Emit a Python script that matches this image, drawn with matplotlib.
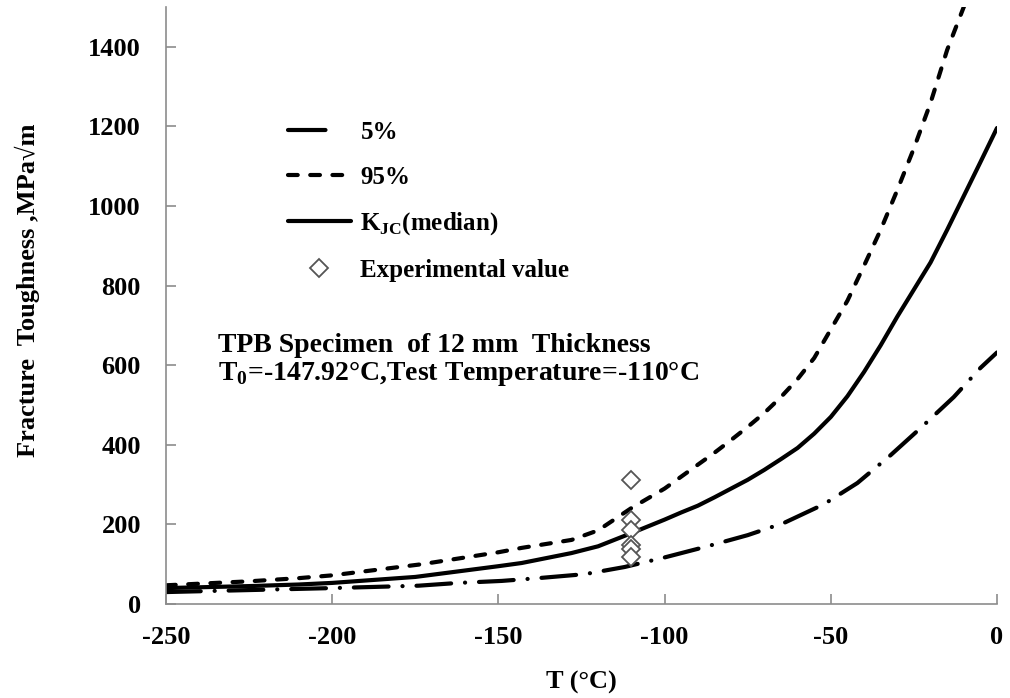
import numpy as np
import matplotlib
matplotlib.use("Agg")
import matplotlib.pyplot as plt
from matplotlib.lines import Line2D

plt.rcParams["font.family"] = ["Liberation Serif", "DejaVu Serif"]
plt.rcParams["font.weight"] = "bold"
plt.rcParams["lines.scale_dashes"] = False
plt.rcParams["axes.unicode_minus"] = False

# Master curve bands, K_JC in MPa*sqrt(m) against temperature in degC
t_med = [-250, -225, -210, -200, -175, -150, -143, -128, -120, -110, -100,
         -95, -90, -85, -80, -75, -70, -65, -60, -55, -50, -45, -40,
         -35, -30, -25, -20, -15, -10, -5, 0]
k_med = [40, 45, 49, 53, 68, 95, 103, 128, 145, 178, 212,
         230, 247, 268, 290, 312, 337, 364, 392, 428, 470, 522, 583,
         650, 722, 790, 858, 940, 1025, 1110, 1196]

t_95 = [-250, -225, -210, -200, -173, -150, -143, -128, -120, -110, -100,
        -95, -90, -85, -80, -75, -70, -65, -60, -55, -50, -45, -40,
        -35, -30, -25, -20, -15, -10, -8]
k_95 = [47, 57, 65, 72, 100, 130, 141, 161, 185, 241, 290,
        320, 350, 380, 412, 445, 480, 520, 565, 618, 690, 762, 850,
        940, 1040, 1145, 1259, 1392, 1500, 1540]

t_05 = [-250, -225, -200, -174, -162, -149, -138, -124, -112, -100, -88,
        -75, -64, -52, -42, -32, -23, -13, -5, 0]
k_05 = [30, 35, 40, 46, 53, 58, 65, 75, 93, 117, 143,
        173, 204, 251, 304, 374, 442, 520, 593, 632]

# test results at the test temperature
t_exp = [-110, -110, -110, -110, -110, -110]
k_exp = [311, 212, 185, 148, 138, 118]

style_05 = dict(color="black", lw=3, dash_capstyle="round")
style_95 = dict(color="black", lw=3, dashes=(7, 9), dash_capstyle="round")
style_med = dict(color="black", lw=3, solid_capstyle="round")
style_exp = dict(ls="none", marker="D", ms=9, mfc="white", mec="#555555", mew=1.3)

fig = plt.figure(figsize=(10.1, 6.98), dpi=100)
ax = fig.add_axes([166 / 1010, 94 / 698, 831 / 1010, 597 / 698])

ax.plot(t_05, k_05, dashes=(25, 10, 0.1, 10), **style_05)
ax.plot(t_95, k_95, **style_95)
ax.plot(t_med, k_med, **style_med)
ax.plot(t_exp, k_exp, zorder=5, **style_exp)

ax.set_xlim(-250, 0)
ax.set_ylim(0, 1500)
ax.set_xticks(np.arange(-250, 1, 50))
ax.set_yticks(np.arange(0, 1401, 200))

for side in ("top", "right"):
    ax.spines[side].set_visible(False)
for side in ("left", "bottom"):
    ax.spines[side].set_color("#8c8c8c")
    ax.spines[side].set_linewidth(1.2)
ax.tick_params(axis="both", direction="in", length=7, width=1.2,
               color="#8c8c8c", labelsize=19)
ax.tick_params(axis="y", pad=18)
ax.tick_params(axis="x", pad=16)

ax.set_xlabel("T (°C)", fontsize=19, fontweight="bold")
ax.xaxis.set_label_coords(0.5, -0.112)
ax.set_ylabel("Fracture  Toughness ,MPa√m", fontsize=19, fontweight="bold")
ax.yaxis.set_label_coords(-0.152, 0.525)

# legend handles (5% handle shows only the long dash)
handles = [
    Line2D([], [], dashes=(27, 60), **style_05),
    Line2D([], [], **style_95),
    Line2D([], [], **style_med),
    Line2D([], [], **style_exp),
]
labels = ["5%", "95%", r"K$_{\mathregular{JC}}$(median)", "Experimental value"]
ax.legend(handles, labels, loc="upper left",
          bbox_to_anchor=(288 / 1010, 1 - 121 / 698),
          bbox_transform=fig.transFigure, frameon=False, fontsize=18,
          borderpad=0, borderaxespad=0, handlelength=2.5,
          handletextpad=0.4, labelspacing=0.87)

fig.text(218 / 1010, 1 - 352 / 698, "TPB Specimen  of 12 mm  Thickness",
         fontsize=20, fontweight="bold", va="baseline")
fig.text(218 / 1010, 1 - 380 / 698,
         r"T$_{\mathregular{0}}$=-147.92°C,Test Temperature=-110°C",
         fontsize=20, fontweight="bold", va="baseline")

fig.savefig("out.png", dpi=100)
